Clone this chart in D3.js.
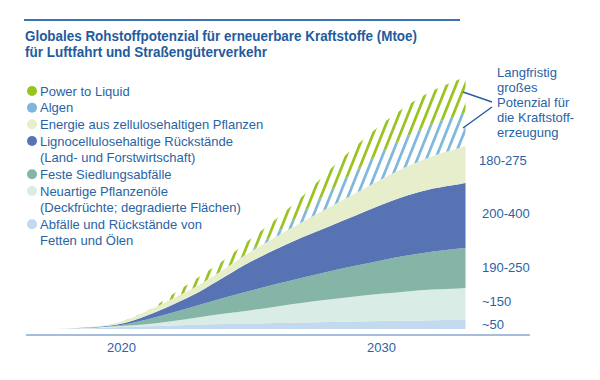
<!DOCTYPE html>
<html><head><meta charset="utf-8">
<script src="https://cdn.jsdelivr.net/npm/d3@7/dist/d3.min.js"></script>
<style>
html,body{margin:0;padding:0;background:#fff;}
text{font-family:"Liberation Sans",Arial,Helvetica,sans-serif;}
</style></head>
<body><svg id="c" width="600" height="380"></svg>
<script>
// ---- data (estimated, Mtoe-like units) ----
const years = [2017.5, 2018, 2019, 2020, 2021, 2022, 2023, 2024, 2025, 2026, 2027, 2028, 2029, 2030, 2031, 2032, 2033, 2033.25];
const abfaelle  = [0, 2, 4, 10, 14, 18, 22, 25, 27, 30, 33, 35, 37, 40, 42, 44, 45, 45];
const neuartige = [0, 1, 3, 5, 10, 22, 37, 52, 67, 83, 98, 112, 125, 136, 146, 153, 158, 160];
const feste     = [0, 0, 1, 5, 24, 43, 61, 80, 98, 113, 127, 141, 154, 167, 179, 190, 199, 200];
const ligno     = [0, 0, 2, 6, 20, 40, 65, 105, 145, 175, 202, 225, 250, 277, 300, 315, 322, 325];
const energie   = [0, 0, 2, 10, 22, 30, 35, 40, 50, 63, 77, 95, 111, 128, 145, 163, 181, 185];
const algen     = [0, 0, 0, 0, 0, 0, 0, 0, 5, 20, 47, 80, 112, 135, 152, 162, 165, 165];
const ptl       = [0, 0, 0, 0, 0, 22, 40, 47, 60, 70, 82, 105, 122, 138, 152, 165, 178, 180];

const seriesKeys = ["abfaelle", "neuartige", "feste", "ligno", "energie", "algen", "ptl"];
const seriesColors = ["#c3d9ee", "#d9ece5", "#85b5a7", "#5773b3", "#e6eecc", "#7db8dc", "#98c21d"];
const legendLabels = [
  ["Power to Liquid"],
  ["Algen"],
  ["Energie aus zellulosehaltigen Pflanzen"],
  ["Lignocellulosehaltige Rückstände", "(Land- und Forstwirtschaft)"],
  ["Feste Siedlungsabfälle"],
  ["Neuartige Pflanzenöle", "(Deckfrüchte; degradierte Flächen)"],
  ["Abfälle und Rückstände von", "Fetten und Ölen"]
];
const legendKeys = ["ptl", "algen", "energie", "ligno", "feste", "neuartige", "abfaelle"];
const rangeLabels = ["180-275", "200-400", "190-250", "~150", "~50"];
const noteLines = ["Langfristig", "großes", "Potenzial für", "die Kraftstoff-", "erzeugung"];
const titleLines = ["Globales Rohstoffpotenzial für erneuerbare Kraftstoffe (Mtoe)", "für Luftfahrt und Straßengüterverkehr"];
const tickYears = [2020, 2030];

// ---- build table ----
const table = years.map((y, i) => ({
  year: y, abfaelle: abfaelle[i], neuartige: neuartige[i], feste: feste[i],
  ligno: ligno[i], energie: energie[i], algen: algen[i], ptl: ptl[i]
}));
const colorOf = k => seriesColors[seriesKeys.indexOf(k)];

const svg = d3.select("#c");
const textCol = "#2a63a5";

const x = d3.scaleLinear().domain([2020, 2030]).range([121, 381]);
const y = d3.scaleLinear().domain([0, 1300]).range([329, 69]);

const stacked = d3.stack().keys(seriesKeys)(table);
const area = d3.area()
  .x(d => x(d.data.year))
  .y0(d => y(d[0]))
  .y1(d => y(d[1]))
  .curve(d3.curveMonotoneX);

// hatch patterns
const defs = svg.append("defs");
const ang = Math.atan(0.4) * 180 / Math.PI;
["algen", "ptl"].forEach(k => {
  const p = defs.append("pattern")
    .attr("id", "hatch-" + k)
    .attr("patternUnits", "userSpaceOnUse")
    .attr("width", 8.4).attr("height", 20)
    .attr("patternTransform", `rotate(${ang})`);
  p.append("rect").attr("x", 0).attr("y", 0).attr("width", 2.7).attr("height", 20)
    .attr("fill", colorOf(k));
});

// top rule
svg.append("line").attr("x1", 24).attr("x2", 460).attr("y1", 20).attr("y2", 20)
  .attr("stroke", "#3b72b2").attr("stroke-width", 1.8);

// title
const tl = [392, 242];
titleLines.forEach((t, i) => {
  svg.append("text").attr("x", 25).attr("y", 41 + i * 16)
    .attr("font-size", 14).attr("font-weight", "bold").attr("fill", "#1f5b9e")
    .attr("textLength", tl[i]).attr("lengthAdjust", "spacingAndGlyphs")
    .text(t);
});

// areas
svg.append("g").selectAll("path").data(stacked).join("path")
  .attr("d", area)
  .attr("fill", d => (d.key === "algen" || d.key === "ptl") ? `url(#hatch-${d.key})` : colorOf(d.key));

// axis baseline
svg.append("line").attr("x1", x(2016.35)).attr("x2", x(2035.73))
  .attr("y1", 335).attr("y2", 335).attr("stroke", "#87a7cc").attr("stroke-width", 1.5);

const axis = d3.axisBottom(x).tickValues(tickYears).tickFormat(d3.format("d")).tickSize(0).tickPadding(0);
const ag = svg.append("g").attr("transform", "translate(0,343)").call(axis);
ag.select(".domain").remove();
ag.selectAll("text").attr("font-size", 13).attr("fill", textCol)
  .attr("font-family", "Liberation Sans, Arial, sans-serif").attr("dy", "0.71em");

// legend
let line = 0;
const lg = svg.append("g");
legendLabels.forEach((lines, i) => {
  const cy = 91 + line * 16.65;
  lg.append("circle").attr("cx", 32).attr("cy", cy).attr("r", 5).attr("fill", colorOf(legendKeys[i]));
  lines.forEach((t, j) => {
    lg.append("text").attr("x", 40).attr("y", 91 + (line + j) * 16.65 + 4.6)
      .attr("font-size", 13).attr("fill", textCol).text(t);
  });
  line += lines.length;
});

// right-side range labels
const rangeY = [165, 218, 272, 306, 329];
rangeLabels.forEach((t, i) => {
  svg.append("text").attr("x", i === 0 ? 479 : 482).attr("y", rangeY[i])
    .attr("font-size", 13).attr("fill", textCol).text(t);
});

// note
noteLines.forEach((t, i) => {
  svg.append("text").attr("x", 497).attr("y", 77 + i * 15)
    .attr("font-size", 13).attr("fill", textCol).text(t);
});
svg.append("line").attr("x1", 463).attr("y1", 92).attr("x2", 492).attr("y2", 102)
  .attr("stroke", "#2a5f9e").attr("stroke-width", 1.5);
svg.append("line").attr("x1", 463).attr("y1", 128).attr("x2", 492).attr("y2", 107)
  .attr("stroke", "#2a5f9e").attr("stroke-width", 1.5);
</script></body></html>
